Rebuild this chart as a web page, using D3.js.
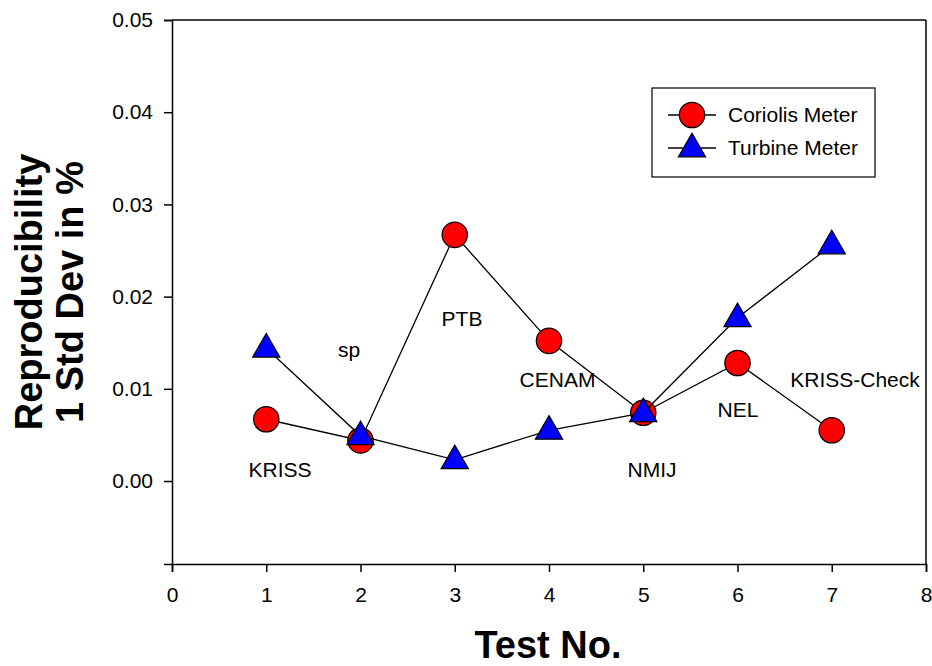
<!DOCTYPE html>
<html>
<head>
<meta charset="utf-8">
<script src="https://cdn.jsdelivr.net/npm/d3@7"></script>
<style>
  body { margin: 0; background: #fff; }
  svg { font-family: Arial, "Liberation Sans", sans-serif; }
</style>
</head>
<body>
<svg id="chart" width="932" height="666"></svg>
<script>
// test numbers and values
var testNo = [1, 2, 3, 4, 5, 6, 7];
var coriolis = [0.0067, 0.0044, 0.0267, 0.0152, 0.0074, 0.0128, 0.0055];
var turbine = [0.0144, 0.0049, 0.0023, 0.0055, 0.0074, 0.0177, 0.0256];
var labNames = ["KRISS", "sp", "PTB", "CENAM", "NMIJ", "NEL", "KRISS-Check"];
var labX = [1.146, 1.878, 3.077, 4.09, 5.093, 6.005, 7.247];
var labY = [0.0004, 0.01345, 0.0168, 0.0102, 0.0004, 0.0069, 0.0102];
var xTicks = [0, 1, 2, 3, 4, 5, 6, 7, 8];
var yTicks = [0.00, 0.01, 0.02, 0.03, 0.04, 0.05];

var svg = d3.select("#chart");
var margin = {top: 20, right: 6, bottom: 102, left: 172};
var width = 932 - margin.left - margin.right;
var height = 666 - margin.top - margin.bottom;

var g = svg.append("g")
    .attr("transform", "translate(" + margin.left + "," + margin.top + ")");

var x = d3.scaleLinear().domain([0, 8]).range([0, width]);
var y = d3.scaleLinear().domain([-0.009, 0.05]).range([height, 0]);

// frame top and right
g.append("line").attr("x1", 0).attr("x2", width).attr("y1", 0).attr("y2", 0)
    .attr("stroke", "#000").attr("stroke-width", 1.5);
g.append("line").attr("x1", width).attr("x2", width).attr("y1", 0).attr("y2", height)
    .attr("stroke", "#000").attr("stroke-width", 1.5);

var xAxis = g.append("g")
    .attr("transform", "translate(0," + height + ")")
    .call(d3.axisBottom(x).tickValues(xTicks).tickSize(8).tickPadding(15).tickFormat(d3.format("d")));
var yAxis = g.append("g")
    .call(d3.axisLeft(y).tickValues(yTicks).tickSize(8).tickPadding(11).tickFormat(d3.format(".2f")));

[xAxis, yAxis].forEach(function(a) {
    a.select(".domain").attr("stroke-width", 1.5);
    a.selectAll(".tick line").attr("stroke-width", 1.5);
    a.selectAll(".tick text").attr("font-size", 21).attr("fill", "#000")
        .attr("font-family", "Arial, 'Liberation Sans', sans-serif");
});

// axis titles
svg.append("text")
    .attr("x", 548).attr("y", 658)
    .attr("text-anchor", "middle")
    .attr("font-size", 38).attr("font-weight", "bold")
    .text("Test No.");

var yt = svg.append("text")
    .attr("transform", "translate(42,292) rotate(-90)")
    .attr("text-anchor", "middle")
    .attr("font-size", 38).attr("font-weight", "bold");
yt.append("tspan").attr("x", 0).attr("dy", 0).text("Reproducibility");
yt.append("tspan").attr("x", 0).attr("dy", 41).text("1 Std Dev in %");

var line = d3.line().x(function(d) { return x(d[0]); }).y(function(d) { return y(d[1]); });
var corData = d3.zip(testNo, coriolis);
var turData = d3.zip(testNo, turbine);

var triangle = d3.symbol().type(d3.symbolTriangle).size(320);

// coriolis series
g.append("path").datum(corData).attr("d", line)
    .attr("fill", "none").attr("stroke", "#000").attr("stroke-width", 1.3);
g.selectAll(".cor").data(corData).enter().append("circle")
    .attr("class", "cor")
    .attr("cx", function(d) { return x(d[0]); })
    .attr("cy", function(d) { return y(d[1]); })
    .attr("r", 12.7)
    .attr("fill", "#ff0000").attr("stroke", "#000").attr("stroke-width", 1.2);

// turbine series
g.append("path").datum(turData).attr("d", line)
    .attr("fill", "none").attr("stroke", "#000").attr("stroke-width", 1.3);
g.selectAll(".tur").data(turData).enter().append("path")
    .attr("class", "tur")
    .attr("d", triangle)
    .attr("transform", function(d) { return "translate(" + x(d[0]) + "," + (y(d[1]) + 1) + ")"; })
    .attr("fill", "#0000ff").attr("stroke", "#000").attr("stroke-width", 1.2);

// lab labels
g.selectAll(".lab").data(labNames).enter().append("text")
    .attr("class", "lab")
    .attr("x", function(d, i) { return x(labX[i]); })
    .attr("y", function(d, i) { return y(labY[i]); })
    .attr("text-anchor", "middle")
    .attr("font-size", 21)
    .text(function(d) { return d; });

// legend
var leg = svg.append("g").attr("transform", "translate(652,88)");
leg.append("rect").attr("width", 223).attr("height", 89)
    .attr("fill", "#fff").attr("stroke", "#000").attr("stroke-width", 1.2);
var legItems = ["Coriolis Meter", "Turbine Meter"];
legItems.forEach(function(name, i) {
    var ly = 27 + i * 33;
    leg.append("line").attr("x1", 16).attr("x2", 64).attr("y1", ly).attr("y2", ly)
        .attr("stroke", "#000").attr("stroke-width", 1.3);
    if (i === 0) {
        leg.append("circle").attr("cx", 40).attr("cy", ly).attr("r", 12.7)
            .attr("fill", "#ff0000").attr("stroke", "#000").attr("stroke-width", 1.2);
    } else {
        leg.append("path").attr("d", triangle)
            .attr("transform", "translate(40," + (ly + 1) + ")")
            .attr("fill", "#0000ff").attr("stroke", "#000").attr("stroke-width", 1.2);
    }
    leg.append("text").attr("x", 76).attr("y", ly + 7)
        .attr("font-size", 21).text(name);
});
</script>
</body>
</html>
